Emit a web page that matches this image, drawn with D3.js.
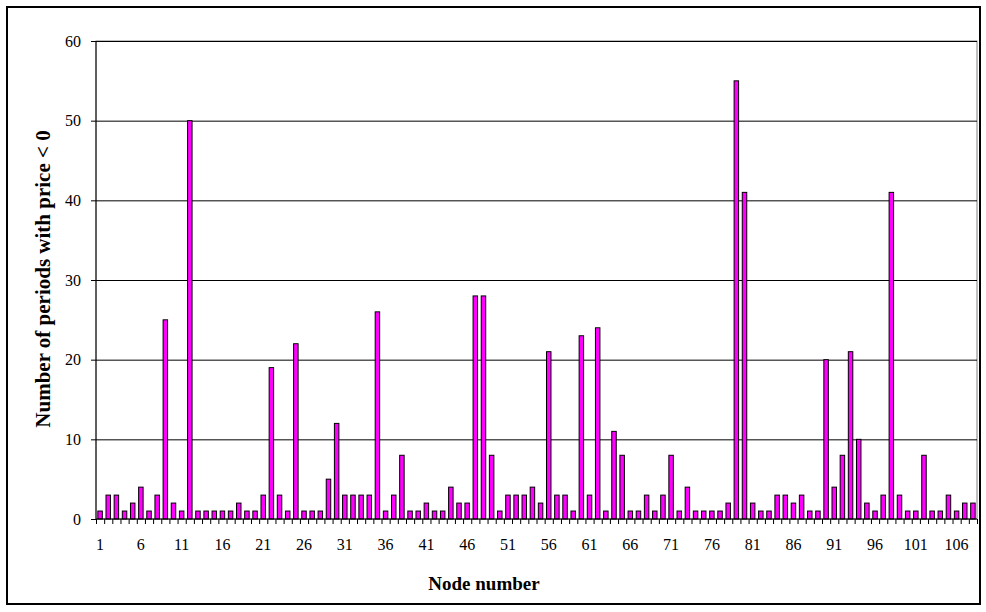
<!DOCTYPE html>
<html lang="en">
<head>
<meta charset="utf-8">
<title>Periods with negative price by node</title>
<script src="https://cdn.jsdelivr.net/npm/d3@7"></script>
<style>
  body { margin: 0; background: #fff; }
  svg text { font-family: "Liberation Serif", "Times New Roman", serif; fill: #000; }
  .axis path { display: none; }
  .axis line { stroke: #000; }
  .grid line { stroke: #000; stroke-width: 1; }
  .grid path { display: none; }
</style>
</head>
<body>
<script>
// node numbers 1..108
var nodes = d3.range(1, 109);

// number of periods with price < 0, node 1..108
var periods = [
  1, 3, 3, 1, 2, 4, 1, 3, 25, 2,
  1, 50, 1, 1, 1, 1, 1, 2, 1, 1,
  3, 19, 3, 1, 22, 1, 1, 1, 5, 12,
  3, 3, 3, 3, 26, 1, 3, 8, 1, 1,
  2, 1, 1, 4, 2, 2, 28, 28, 8, 1,
  3, 3, 3, 4, 2, 21, 3, 3, 1, 23,
  3, 24, 1, 11, 8, 1, 1, 3, 1, 3,
  8, 1, 4, 1, 1, 1, 1, 2, 55, 41,
  2, 1, 1, 3, 3, 2, 3, 1, 1, 20,
  4, 8, 21, 10, 2, 1, 3, 41, 3, 1,
  1, 8, 1, 1, 3, 1, 2, 2
];

var yTicks = [0, 10, 20, 30, 40, 50, 60];
var xLabels = nodes.filter(function(d) { return (d - 1) % 5 === 0; });

var W = 986, H = 612;
var margin = {left: 96, right: 9, top: 41, bottom: 93};
var plotW = W - margin.left - margin.right;
var plotH = H - margin.top - margin.bottom;

var svg = d3.select("body").append("svg")
    .attr("width", W)
    .attr("height", H);

// outer chart frame
svg.append("rect")
    .attr("x", 7).attr("y", 7)
    .attr("width", 973).attr("height", 597)
    .attr("fill", "#fff")
    .attr("stroke", "#000")
    .attr("stroke-width", 2);

var g = svg.append("g")
    .attr("transform", "translate(" + margin.left + "," + margin.top + ")");

var x = d3.scaleBand()
    .domain(nodes)
    .range([0, plotW])
    .paddingInner(0.45)
    .paddingOuter(0.225);

// category boundaries for the tick marks
var xEdge = d3.scaleLinear().domain([0, nodes.length]).range([0, plotW]);

var y = d3.scaleLinear().domain([0, 60]).range([plotH, 0]);

// plot area border (grey)
g.append("rect")
    .attr("width", plotW).attr("height", plotH)
    .attr("fill", "none")
    .attr("stroke", "#808080");

// gridlines
g.append("g")
    .attr("class", "grid")
    .call(d3.axisLeft(y).tickValues(yTicks.slice(1)).tickSize(-plotW).tickFormat(""));

// bars
g.selectAll("rect.bar")
    .data(periods)
    .enter()
    .append("rect")
    .attr("class", "bar")
    .attr("x", function(d, i) { return x(nodes[i]); })
    .attr("y", function(d) { return y(d); })
    .attr("width", x.bandwidth())
    .attr("height", function(d) { return plotH - y(d); })
    .attr("fill", "#ff00ff")
    .attr("stroke", "#000")
    .attr("stroke-width", 1);

// y axis
var yAxis = g.append("g")
    .attr("class", "axis")
    .call(d3.axisLeft(y).tickValues(yTicks).tickSize(5).tickPadding(10));
yAxis.selectAll("text").style("font-size", "16px");
g.append("line")
    .attr("x1", 0).attr("x2", 0)
    .attr("y1", 0).attr("y2", plotH)
    .attr("stroke", "#000");

// x axis: tick marks between categories
g.append("g")
    .attr("class", "axis")
    .attr("transform", "translate(0," + plotH + ")")
    .call(d3.axisBottom(xEdge).tickValues(d3.range(0, nodes.length + 1)).tickSize(5).tickFormat(""));
g.append("line")
    .attr("x1", 0).attr("x2", plotW)
    .attr("y1", plotH).attr("y2", plotH)
    .attr("stroke", "#000");

// x axis: labels every 5th node
var xAxis = g.append("g")
    .attr("class", "axis")
    .attr("transform", "translate(0," + plotH + ")")
    .call(d3.axisBottom(x).tickValues(xLabels).tickSize(0).tickPadding(20));
xAxis.selectAll("text").style("font-size", "16px");

// axis titles
svg.append("text")
    .attr("x", 484)
    .attr("y", 590)
    .attr("text-anchor", "middle")
    .style("font-size", "19px")
    .style("font-weight", "bold")
    .text("Node number");

svg.append("text")
    .attr("transform", "translate(50,279) rotate(-90)")
    .attr("text-anchor", "middle")
    .style("font-size", "21px")
    .style("font-weight", "bold")
    .text("Number of periods with price < 0");
</script>
</body>
</html>
